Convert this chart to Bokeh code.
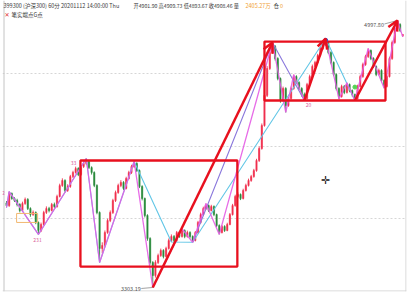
from bokeh.plotting import figure
from bokeh.models import Range1d, Label, Span, Grid, FixedTicker, Arrow, OpenHead, ColumnDataSource
from bokeh.embed import file_html
from bokeh.resources import INLINE

# ---- 60-minute candles (沪深300) ----
opens = [3840, 3823, 3900, 3868, 3855, 3830, 3792, 3836, 3862, 3804,
         3766, 3779, 3716, 3665, 3703, 3779, 3804, 3792, 3830, 3817,
         3881, 3950, 3982, 3919, 3944, 4007, 4033, 4058, 4020, 4071,
         4090, 4103, 4064, 4033, 3951, 3779, 3551, 3570, 3652, 3728,
         3779, 3855, 3906, 3951, 3970, 3932, 3995, 4033, 4071, 4090,
         4045, 3944, 3868, 3760, 3614, 3462, 3379, 3462, 3506, 3538,
         3500, 3551, 3601, 3627, 3601, 3652, 3627, 3665, 3627, 3652,
         3627, 3601, 3652, 3716, 3766, 3804, 3823, 3792, 3817, 3766,
         3696, 3652, 3690, 3665, 3703, 3766, 3823, 3881, 3893, 3868,
         3919, 3951, 3982, 4007, 4045, 4109, 4185, 4331, 4522, 4693,
         4795, 4833, 4756, 4629, 4490, 4566, 4458, 4502, 4566, 4642,
         4604, 4566, 4528, 4502, 4591, 4642, 4706, 4731, 4775, 4820,
         4845, 4858, 4795, 4731, 4655, 4566, 4515, 4579, 4541, 4591,
         4553, 4528, 4502, 4579, 4642, 4718, 4769, 4807, 4756, 4706,
         4655, 4680, 4617, 4579, 4642, 4756, 4858, 4947, 4972, 4901.90]
highs = [3852, 3912, 3906, 3876, 3866, 3838, 3848, 3874, 3870, 3812,
         3792, 3786, 3722, 3715, 3790, 3818, 3815, 3840, 3842, 3892,
         3962, 3996, 3990, 3958, 4018, 4044, 4070, 4066, 4080, 4104,
         4122, 4112, 4072, 4040, 3958, 3786, 3590, 3665, 3740, 3792,
         3866, 3918, 3962, 3984, 3978, 4006, 4044, 4082, 4103, 4098,
         4052, 3952, 3874, 3768, 3622, 3470, 3476, 3518, 3550, 3546,
         3562, 3614, 3640, 3636, 3662, 3660, 3676, 3672, 3664, 3660,
         3634, 3662, 3726, 3778, 3816, 3836, 3830, 3828, 3824, 3772,
         3704, 3700, 3698, 3714, 3776, 3834, 3892, 3906, 3900, 3930,
         3962, 3994, 4018, 4056, 4120, 4198, 4344, 4536, 4708, 4810,
         4858, 4842, 4764, 4636, 4578, 4574, 4514, 4578, 4654, 4650,
         4612, 4574, 4540, 4602, 4654, 4718, 4742, 4786, 4832, 4856,
         4883, 4866, 4802, 4738, 4662, 4574, 4590, 4588, 4602, 4598,
         4560, 4534, 4590, 4654, 4730, 4780, 4820, 4814, 4764, 4712,
         4692, 4688, 4624, 4654, 4768, 4870, 4960, 4997.80, 4980, 4909.73]
lows = [3812, 3815, 3860, 3846, 3818, 3780, 3786, 3828, 3795, 3752,
        3758, 3705, 3640, 3655, 3698, 3770, 3780, 3786, 3806, 3810,
        3875, 3942, 3906, 3910, 3936, 3998, 4026, 4010, 4012, 4062,
        4080, 4055, 4020, 3940, 3768, 3462, 3520, 3560, 3644, 3718,
        3770, 3846, 3898, 3940, 3922, 3926, 3988, 4024, 4062, 4036,
        3934, 3856, 3748, 3600, 3448, 3303.19, 3366, 3452, 3498, 3488,
        3494, 3544, 3592, 3590, 3594, 3618, 3620, 3616, 3620, 3614,
        3590, 3596, 3644, 3708, 3758, 3796, 3782, 3786, 3756, 3686,
        3640, 3646, 3656, 3660, 3698, 3760, 3816, 3872, 3858, 3862,
        3912, 3944, 3974, 4000, 4038, 4100, 4178, 4324, 4512, 4684,
        4786, 4744, 4618, 4476, 4484, 4414, 4450, 4494, 4558, 4594,
        4556, 4515, 4490, 4496, 4584, 4636, 4698, 4724, 4768, 4812,
        4836, 4784, 4720, 4644, 4554, 4500, 4508, 4530, 4534, 4542,
        4516, 4490, 4496, 4572, 4634, 4710, 4760, 4746, 4696, 4644,
        4648, 4606, 4568, 4572, 4636, 4748, 4850, 4940, 4924, 4893.67]
closes = [3823, 3900, 3868, 3855, 3830, 3792, 3836, 3862, 3804, 3766,
          3779, 3716, 3665, 3703, 3779, 3804, 3792, 3830, 3817, 3881,
          3950, 3982, 3919, 3944, 4007, 4033, 4058, 4020, 4071, 4090,
          4103, 4064, 4033, 3951, 3779, 3551, 3570, 3652, 3728, 3779,
          3855, 3906, 3951, 3970, 3932, 3995, 4033, 4071, 4090, 4045,
          3944, 3868, 3760, 3614, 3462, 3379, 3462, 3506, 3538, 3500,
          3551, 3601, 3627, 3601, 3652, 3627, 3665, 3627, 3652, 3627,
          3601, 3652, 3716, 3766, 3804, 3823, 3792, 3817, 3766, 3696,
          3652, 3690, 3665, 3703, 3766, 3823, 3881, 3893, 3868, 3919,
          3951, 3982, 4007, 4045, 4109, 4185, 4331, 4522, 4693, 4795,
          4833, 4756, 4629, 4490, 4566, 4458, 4502, 4566, 4642, 4604,
          4566, 4528, 4502, 4591, 4642, 4706, 4731, 4775, 4820, 4845,
          4858, 4795, 4731, 4655, 4566, 4515, 4579, 4541, 4591, 4553,
          4528, 4502, 4579, 4642, 4718, 4769, 4807, 4756, 4706, 4655,
          4680, 4617, 4579, 4642, 4756, 4858, 4947, 4972, 4934, 4908.46]

# 笔 (pink strokes)
bi_idx = [0, 1, 12, 30, 35, 48, 55, 66, 70, 75, 80, 100, 105, 108, 112, 120, 125, 128, 131, 136, 142, 147, 149]
bi_val = [3812, 3912, 3640, 4122, 3462, 4103, 3303.19, 3676, 3590, 3836, 3640, 4858, 4414, 4654, 4490, 4883, 4500, 4602, 4490, 4820, 4568, 4997.80, 4893.67]
# 线段 (cyan)
seg_idx = [0, 1, 12, 30, 35, 48, 62, 70, 120, 131, 147]
seg_val = [3812, 3912, 3640, 4122, 3462, 4103, 3592, 3590, 4883, 4490, 4997.80]
# purple line
pl_idx = [70, 100, 112]
pl_val = [3590, 4858, 4490]
# 中枢 boxes (red)
box_left = [27.8, 97.0]
box_right = [86.8, 142.5]
box_top = [4109, 4864]
box_bottom = [3436, 4490]
# small orange box
ob_left = [3.8]
ob_right = [11.7]
ob_top = [3773]
ob_bottom = [3716]
# red trend arrows
arr_from_idx = [55, 112, 131]
arr_from_val = [3303.19, 4490, 4490]
arr_to_idx = [100, 120, 147]
arr_to_val = [4858, 4883, 4997.80]
# signal dots
sig_idx = [120, 131]
sig_val = [4872, 4575]
sig_color = ["#2f55d4", "#55d455"]
grid_prices = [3741, 4198, 4661]

RED = "#e8101e"
FONT = "Noto Sans CJK SC"

X0, XSPAN, W = -1.504, 151.904, 404.0
Y0, YSPAN, H = 3277.8, 1846.7, 291.0
def px2x(px):
    return X0 + (px - 2) * XSPAN / W
def px2y(py):
    return Y0 + (H - py) * YSPAN / H
DX = XSPAN / W   # index units per pixel
DY = YSPAN / H   # price units per pixel

p = figure(width=408, height=293, x_range=Range1d(X0, X0 + XSPAN), y_range=Range1d(Y0, Y0 + YSPAN),
           x_axis_type=None, y_axis_type=None, toolbar_location=None, output_backend="svg",
           min_border_left=2, min_border_right=2, min_border_top=0, min_border_bottom=2,
           outline_line_color=None, background_fill_color="white", border_fill_color="white")

p.add_layout(Grid(dimension=1, ticker=FixedTicker(ticks=grid_prices),
                  grid_line_color="#d6d6d6", grid_line_dash="2 2", grid_line_width=1))
p.add_layout(Span(location=px2x(3.5), dimension="height", line_color="#c4c4c4", line_width=1))
p.add_layout(Span(location=px2x(405.5), dimension="height", line_color="#d0d0d0", line_width=1))
p.add_layout(Span(location=px2y(290.5), dimension="width", line_color="#d0d0d0", line_width=1))

idx = list(range(len(closes)))
cols = ["#f0304e" if c >= o else "#2a8a3c" for o, c in zip(opens, closes)]
src = ColumnDataSource(dict(x=idx, h=highs, l=lows,
                            top=[max(o, c) for o, c in zip(opens, closes)],
                            bot=[min(o, c) for o, c in zip(opens, closes)], color=cols))
p.segment("x", "h", "x", "l", source=src, line_color="color", line_width=0.9)
p.vbar(x="x", width=0.5, top="top", bottom="bot", source=src, fill_color="color", line_color="color", line_width=0.5)

p.line(seg_idx, seg_val, line_color="#62c6e6", line_width=1.1)
p.line(pl_idx, pl_val, line_color="#8a78dc", line_width=1.1)
p.line(bi_idx, bi_val, line_color="#e45ce4", line_width=1.3, line_alpha=0.9)

p.quad(left=ob_left, right=ob_right, top=ob_top, bottom=ob_bottom, fill_color=None,
       line_color="#f2b870", line_width=1)
p.quad(left=box_left, right=box_right, top=box_top, bottom=box_bottom, fill_color=None,
       line_color=RED, line_width=2.3)

for fx, fy, tx, ty in zip(arr_from_idx, arr_from_val, arr_to_idx, arr_to_val):
    p.add_layout(Arrow(end=OpenHead(size=10, line_color=RED, line_width=2.5),
                       x_start=fx, y_start=fy, x_end=tx, y_end=ty,
                       line_color=RED, line_width=2.5))

p.scatter(sig_idx, sig_val, size=4, color=sig_color, marker="circle")

# extreme labels with leader lines
hi_i, hi_v = 147, max(highs)
lo_i, lo_v = 55, min(lows)
p.segment([hi_i - 13 * DX, lo_i - 11.5 * DX], [hi_v - 3.5 * DY, lo_v - 1 * DY],
          [hi_i, lo_i], [hi_v, lo_v], line_color="#8a8a8a", line_width=0.8)
p.add_layout(Label(x=hi_i - 13.5 * DX, y=hi_v - 3.8 * DY, text="4997.80", text_font=FONT, text_font_size="5.5px",
                   text_color="#555555", text_align="right", text_baseline="middle"))
p.add_layout(Label(x=lo_i - 12 * DX, y=lo_v - 1 * DY, text="3303.19", text_font=FONT, text_font_size="5.5px",
                   text_color="#555555", text_align="right", text_baseline="middle"))

# small pink point labels
for tx, ty, t in [(px2x(3), px2y(192), "2"), (px2x(73), px2y(162), "33"),
                  (px2x(37), px2y(239), "231"), (px2x(308), px2y(104), "20")]:
    p.add_layout(Label(x=tx, y=ty, text=t, text_font=FONT, text_font_size="5px",
                       text_color="#d9609a", text_align="center", text_baseline="middle"))

# header
hy = px2y(5)
p.add_layout(Label(x=px2x(3), y=hy, text="399300 (沪深300) 60分 20201112 14:00:00 Thu", text_font=FONT,
                   text_font_size="5.5px", text_color="#3a3a3a", text_baseline="middle"))
p.add_layout(Label(x=px2x(133), y=hy, text="开4901.90 高4909.73 低4893.67 收4908.46 量", text_font=FONT,
                   text_font_size="5.2px", text_color="#3a3a3a", text_baseline="middle"))
p.add_layout(Label(x=px2x(245), y=hy, text="2405.27万", text_font=FONT,
                   text_font_size="5.5px", text_color="#f0a030", text_baseline="middle"))
p.add_layout(Label(x=px2x(273), y=hy, text="仓", text_font=FONT,
                   text_font_size="5.5px", text_color="#3a3a3a", text_baseline="middle"))
p.add_layout(Label(x=px2x(279.5), y=hy, text="0", text_font=FONT,
                   text_font_size="5.5px", text_color="#f0a030", text_baseline="middle"))
p.add_layout(Label(x=px2x(4), y=px2y(14), text="✕", text_font="DejaVu Sans",
                   text_font_size="6px", text_color="#e03030", text_baseline="middle"))
p.add_layout(Label(x=px2x(11), y=px2y(14), text="笔实端点G点", text_font=FONT,
                   text_font_size="5.5px", text_color="#303030", text_baseline="middle"))
# mouse cursor
p.add_layout(Label(x=px2x(325), y=px2y(180), text="✛", text_font="DejaVu Sans",
                   text_font_size="11px", text_color="#111111", text_align="center", text_baseline="middle"))

open("out.html", "w").write(file_html(p, INLINE))
